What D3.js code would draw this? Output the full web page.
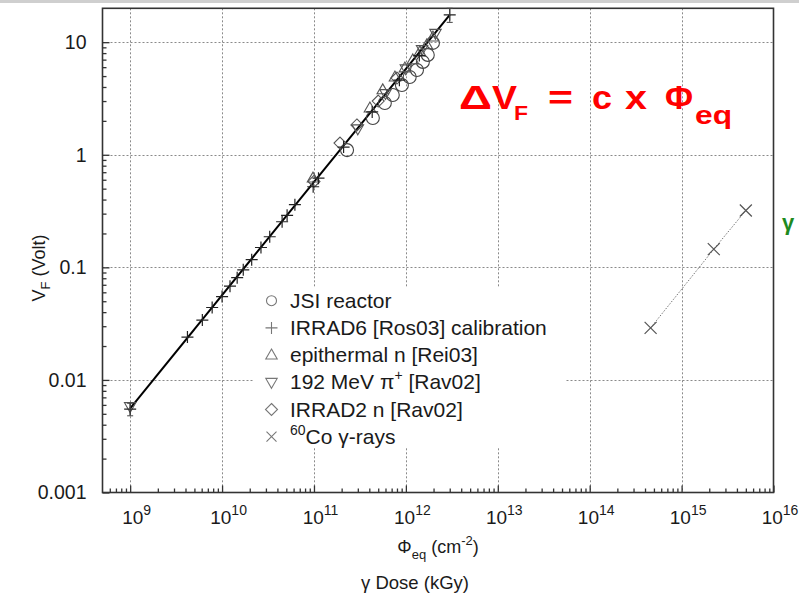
<!DOCTYPE html>
<html><head><meta charset="utf-8">
<script src="https://cdnjs.cloudflare.com/ajax/libs/d3/7.8.5/d3.min.js"></script>
<style>
html,body{margin:0;padding:0;background:#fff;}
svg{display:block;font-family:"Liberation Sans",Arial,sans-serif;}
</style></head>
<body>
<svg id="c" width="799" height="599"></svg>
<script>
// ---------------- data ----------------
const xTicks = [1e9, 1e10, 1e11, 1e12, 1e13, 1e14, 1e15, 1e16];
const xTickExp = ["9","10","11","12","13","14","15","16"];
const yTicks = [0.001, 0.01, 0.1, 1, 10];
const yTickLabels = ["0.001","0.01","0.1","1","10"];

// fit line  dV_F = c x Phi_eq
const fitX = [1e9, 3e12];
const fitY = [0.0056, 17.5];

// IRRAD6 [Ros03] calibration (+)
const irrad6X = [1e9, 4.2e9, 6.1e9, 7.8e9, 1.0e10, 1.22e10, 1.46e10, 1.7e10, 2.1e10, 2.65e10, 3.3e10, 4.5e10, 5.1e10, 6.2e10, 9.8e10, 1.12e11, 2.1e11, 4.3e11, 8.5e11, 1.4e12, 3.0e12];
const irrad6Y = [0.0055, 0.024, 0.034, 0.044, 0.055, 0.068, 0.081, 0.095, 0.117, 0.15, 0.187, 0.254, 0.29, 0.36, 0.52, 0.62, 1.17, 2.4, 4.6, 7.6, 17.5];
const irrad6Err = [0.0007, 0, 0, 0, 0, 0, 0, 0, 0, 0, 0, 0, 0, 0, 0, 0, 0, 0, 0, 0, 2.5];

// JSI reactor (circles)
const jsiX = [2.29e11, 4.37e11, 5.9e11, 7.2e11, 9.05e11, 1.1e12, 1.32e12, 1.53e12, 1.73e12, 1.97e12];
const jsiY = [1.10, 2.12, 2.88, 3.40, 4.17, 4.91, 5.67, 6.68, 7.71, 9.86];

// epithermal n [Rei03] (up triangles)
const epiX = [9.75e10, 4.06e11, 5.6e11, 7.6e11, 9.75e11, 1.19e12, 1.42e12, 1.69e12, 1.97e12];
const epiY = [0.62, 2.6, 3.77, 4.9, 5.9, 6.96, 8.2, 9.47, 11.1];

// 192 MeV pi+ [Rav02] (down triangles)
const pionX = [1e9, 3.0e11, 6.0e11, 1.0e12, 1.5e12, 2.1e12];
const pionY = [0.0058, 1.7, 3.5, 5.8, 8.6, 12.0];

// IRRAD2 n [Rav02] (diamonds)
const irrad2X = [1.0e11, 1.92e11, 2.93e11, 5.0e11, 8.0e11];
const irrad2Y = [0.58, 1.27, 1.84, 3.0, 4.8];

// 60Co gamma-rays (x)
const coX = [4.6e14, 2.24e15, 5.0e15];
const coY = [0.029, 0.145, 0.32];

const legendLabels = ["JSI reactor", "IRRAD6 [Ros03] calibration", "epithermal n [Rei03]", "192 MeV π+ [Rav02]", "IRRAD2 n [Rav02]", "60Co γ-rays"];

// ---------------- layout ----------------
const svg = d3.select("#c");
const L = 102.5, R = 773.5, T = 8.3, B = 492.5;
const x = d3.scaleLog().domain([5e8, 1e16]).range([L, R]);
const y = d3.scaleLog().domain([1e-3, 20]).range([B, T]);

svg.append("rect").attr("x",0).attr("y",0).attr("width",799).attr("height",599).attr("fill","#fff");
svg.append("rect").attr("x",0).attr("y",0).attr("width",799).attr("height",3).attr("fill","#cfcfcf");

// grid
const gridX = xTicks.filter(v => v < 1e16);
const gridY = yTicks.filter(v => v > 1e-3);
const grid = svg.append("g").attr("stroke","#8a8a8a").attr("stroke-width",1).attr("stroke-dasharray","2,2");
grid.selectAll("line.gx").data(gridX).join("line").attr("class","gx")
  .attr("x1",d=>Math.round(x(d))+0.5).attr("x2",d=>Math.round(x(d))+0.5).attr("y1",T).attr("y2",B);
grid.selectAll("line.gy").data(gridY).join("line").attr("class","gy")
  .attr("x1",L).attr("x2",R).attr("y1",d=>Math.round(y(d))+0.5).attr("y2",d=>Math.round(y(d))+0.5);

// legend background
svg.append("rect").attr("x",253).attr("y",288).attr("width",312).attr("height",160).attr("fill","#fff");

// minor ticks
const minorX = [];
for (let e = 8; e < 16; e++) for (let m = 2; m <= 9; m++) { const v = m * Math.pow(10, e); if (v > 5e8 && v < 1e16) minorX.push(v); }
const minorY = [];
for (let e = -3; e < 2; e++) for (let m = 2; m <= 9; m++) { const v = m * Math.pow(10, e); if (v < 20) minorY.push(v); }

const axCol = "#333";
const gxMinor = svg.append("g").attr("transform",`translate(0,${B})`)
  .call(d3.axisTop(x).tickValues(minorX).tickSize(4).tickFormat(""));
const gxMajor = svg.append("g").attr("transform",`translate(0,${B})`)
  .call(d3.axisTop(x).tickValues(xTicks).tickSize(7).tickFormat(""));
const gyMinor = svg.append("g").attr("transform",`translate(${L},0)`)
  .call(d3.axisRight(y).tickValues(minorY).tickSize(4).tickFormat(""));
const gyMajor = svg.append("g").attr("transform",`translate(${L},0)`)
  .call(d3.axisRight(y).tickValues(yTicks).tickSize(7).tickFormat(""));
[gxMinor,gxMajor,gyMinor,gyMajor].forEach(g => {
  g.select(".domain").remove();
  g.selectAll(".tick line").attr("stroke",axCol).attr("stroke-width",1.3);
});

// tick labels (bottom) via axis
const gxLab = svg.append("g").attr("transform",`translate(0,${B})`)
  .call(d3.axisBottom(x).tickValues(xTicks).tickSize(0).tickPadding(0).tickFormat(""));
gxLab.select(".domain").remove();
gxLab.selectAll(".tick text").each(function(d,i){
  const t = d3.select(this).attr("y",31).attr("dy",null).attr("fill","#1a1a1a")
    .attr("font-size",19).attr("text-anchor","middle").attr("dx",6);
  t.append("tspan").text("10");
  t.append("tspan").attr("font-size",14).attr("dy",-9).text(xTickExp[i]);
});
const gyLab = svg.append("g").attr("transform",`translate(${L},0)`)
  .call(d3.axisLeft(y).tickValues(yTicks).tickSize(0).tickPadding(16).tickFormat((d,i)=>yTickLabels[i]));
gyLab.select(".domain").remove();
gyLab.selectAll(".tick text").attr("font-size",19.5).attr("fill","#1a1a1a").attr("font-family","Liberation Sans, Arial, sans-serif");

// frame
svg.append("rect").attr("x",L).attr("y",T).attr("width",R-L).attr("height",B-T)
  .attr("fill","none").attr("stroke",axCol).attr("stroke-width",1.6);

// axis titles
const yt = svg.append("text").attr("transform","translate(45,268) rotate(-90)")
  .attr("text-anchor","middle").attr("font-size",18).attr("fill","#1a1a1a");
yt.append("tspan").text("V");
yt.append("tspan").attr("font-size",13).attr("dy",5).text("F");
yt.append("tspan").attr("dy",-5).text(" (Volt)");

const xt = svg.append("text").attr("x",438).attr("y",553).attr("text-anchor","middle").attr("font-size",18).attr("fill","#1a1a1a");
xt.append("tspan").text("Φ");
xt.append("tspan").attr("font-size",13).attr("dy",6).text("eq");
xt.append("tspan").attr("dy",-6).text(" (cm");
xt.append("tspan").attr("font-size",13).attr("dy",-8).text("-2");
xt.append("tspan").attr("dy",8).text(")");

svg.append("text").attr("x",415).attr("y",589).attr("text-anchor","middle").attr("font-size",18.5).attr("fill","#1a1a1a").text("γ Dose (kGy)");

// ---------------- marks ----------------
const plot = svg.append("g");

// fit line
plot.append("path").datum(fitX.map((v,i)=>[v,fitY[i]]))
  .attr("d", d3.line().x(d=>x(d[0])).y(d=>y(d[1])))
  .attr("fill","none").attr("stroke","#000").attr("stroke-width",2);

// gamma dotted line
plot.append("path").datum(coX.map((v,i)=>[v,coY[i]]))
  .attr("d", d3.line().x(d=>x(d[0])).y(d=>y(d[1])))
  .attr("fill","none").attr("stroke","#777").attr("stroke-width",1).attr("stroke-dasharray","1.5,1.5");

function sym(g, type, s, col, sw){
  if (type==="circle") g.append("circle").attr("r",s).attr("fill","none").attr("stroke",col).attr("stroke-width",sw);
  else if (type==="plus") g.append("path").attr("d",`M${-s},0H${s}M0,${-s}V${s}`).attr("stroke",col).attr("stroke-width",sw);
  else if (type==="cross") g.append("path").attr("d",`M${-s},${-s}L${s},${s}M${-s},${s}L${s},${-s}`).attr("stroke",col).attr("stroke-width",sw);
  else if (type==="up") g.append("path").attr("d",`M0,${-s}L${s*0.95},${s*0.65}L${-s*0.95},${s*0.65}Z`).attr("fill","none").attr("stroke",col).attr("stroke-width",sw);
  else if (type==="down") g.append("path").attr("d",`M0,${s}L${s*0.95},${-s*0.65}L${-s*0.95},${-s*0.65}Z`).attr("fill","none").attr("stroke",col).attr("stroke-width",sw);
  else if (type==="diamond") g.append("path").attr("d",`M0,${-s}L${s},0L0,${s}L${-s},0Z`).attr("fill","none").attr("stroke",col).attr("stroke-width",sw);
}
function series(xs, ys, type, s, col, sw){
  const pts = xs.map((v,i)=>[v,ys[i]]);
  plot.append("g").selectAll("g").data(pts).join("g")
    .attr("transform", d=>`translate(${x(d[0])},${y(d[1])})`)
    .each(function(){ sym(d3.select(this), type, s, col, sw); });
}
series(jsiX, jsiY, "circle", 6.5, "#444", 1.1);
series(epiX, epiY, "up", 6, "#555", 1.1);
series(pionX, pionY, "down", 6, "#555", 1.1);
series(irrad2X, irrad2Y, "diamond", 6, "#555", 1.1);
series(irrad6X, irrad6Y, "plus", 6, "#222", 1.2);
series(coX, coY, "cross", 6, "#555", 1.2);

// error bars on calibration ends
const eb = irrad6X.map((v,i)=>({x:v,y:irrad6Y[i],e:irrad6Err[i]})).filter(d=>d.e>0);
const ebG = plot.append("g").attr("stroke","#444").attr("stroke-width",1);
eb.forEach(d=>{
  const cx = x(d.x), y1 = y(d.y - d.e), y2 = y(d.y + d.e);
  ebG.append("line").attr("x1",cx).attr("x2",cx).attr("y1",y1).attr("y2",y2);
  ebG.append("line").attr("x1",cx-3).attr("x2",cx+3).attr("y1",y1).attr("y2",y1);
  ebG.append("line").attr("x1",cx-3).attr("x2",cx+3).attr("y1",y2).attr("y2",y2);
});

// ---------------- legend ----------------
const legTypes = ["circle","plus","up","down","diamond","cross"];
const leg = svg.append("g");
legendLabels.forEach((lab,i)=>{
  const yy = 300.7 + i*27.2;
  const g = leg.append("g").attr("transform",`translate(271.5,${yy})`);
  const s = legTypes[i]==="circle" ? 5 : (legTypes[i]==="cross" ? 5 : 6);
  sym(g, legTypes[i], s, "#777", 1.1);
  const t = leg.append("text").attr("x",290).attr("y",yy+7).attr("font-size",21).attr("fill","#1a1a1a");
  if (i===3) {
    t.append("tspan").text("192 MeV π");
    t.append("tspan").attr("font-size",14).attr("dy",-9).text("+");
    t.append("tspan").attr("dy",9).text(" [Rav02]");
  } else if (i===5) {
    t.append("tspan").attr("font-size",14).attr("dy",-9).text("60");
    t.append("tspan").attr("dy",9).text("Co γ-rays");
  } else t.text(lab);
});

// ---------------- annotations ----------------
const red = "#ff0000";
const fparts = [
  {t:"Δ", x:459, y:109, fs:34, w:33},
  {t:"V", x:492, y:109, fs:34, w:25},
  {t:"F", x:514, y:120, fs:21, w:14},
  {t:"=", x:548, y:109, fs:34, w:25},
  {t:"c", x:592, y:109, fs:34, w:20},
  {t:"x", x:625, y:109, fs:34, w:22},
  {t:"Φ", x:665, y:109, fs:34, w:28},
  {t:"eq", x:695, y:124, fs:26, w:37}
];
const fg = svg.append("g").attr("fill",red).attr("font-weight","bold");
fparts.forEach(p=>{
  fg.append("text").attr("x",p.x).attr("y",p.y).attr("font-size",p.fs)
    .attr("textLength",p.w).attr("lengthAdjust","spacingAndGlyphs").text(p.t);
});

svg.append("text").attr("x",782).attr("y",230).attr("font-size",22).attr("font-weight","bold").attr("fill","#1e8a1e").text("γ");
</script>
</body></html>
